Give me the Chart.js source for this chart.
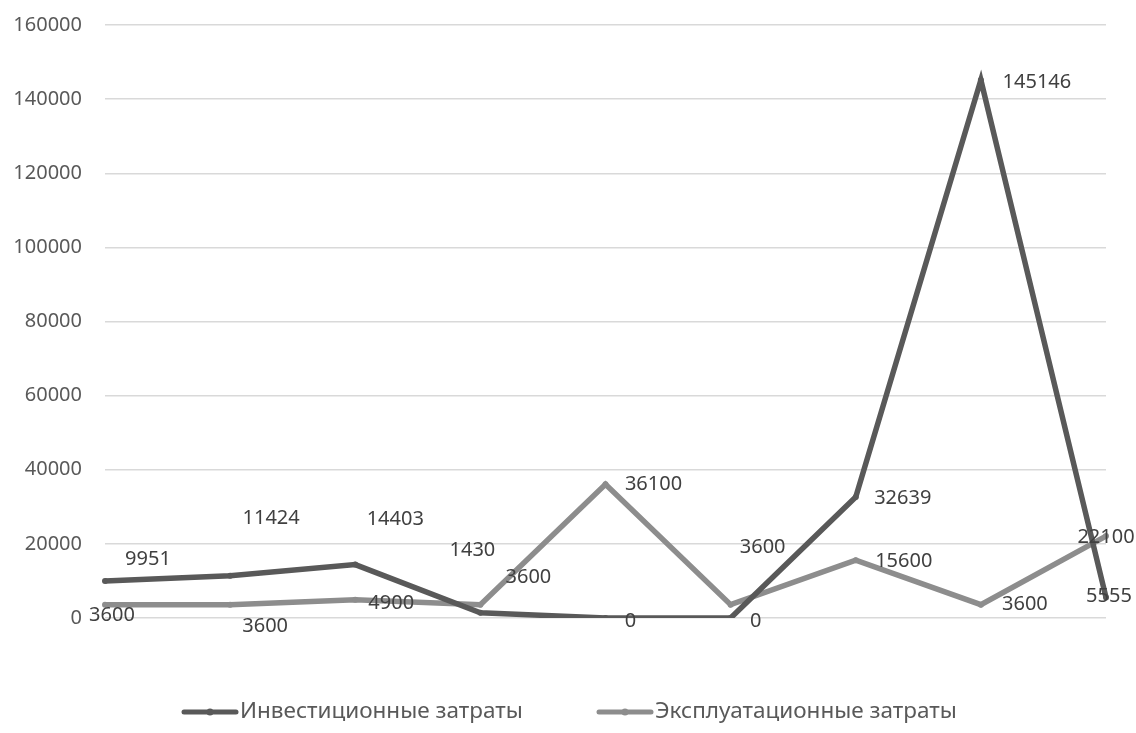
<!DOCTYPE html>
<html>
<head>
<meta charset="utf-8">
<script src="https://cdn.jsdelivr.net/npm/chart.js@4.4.1/dist/chart.umd.min.js"></script>
<style>
  html, body { margin: 0; padding: 0; background: #fff; }
  #wrap { width: 1136px; height: 733px; }
</style>
</head>
<body>
<div id="wrap"><canvas id="lineChart" width="1136" height="733"></canvas></div>
<script>
// categories (not labelled on the axis)
const periods = ['1', '2', '3', '4', '5', '6', '7', '8', '9'];

// series values
const investCosts = [9951, 11424, 14403, 1430, 0, 0, 32639, 145146, 5555];
const operCosts = [3600, 3600, 4900, 3600, 36100, 3600, 15600, 3600, 22100];

const seriesNames = ['Инвестиционные затраты', 'Эксплуатационные затраты'];

// y axis ticks
const yTicks = [0, 20000, 40000, 60000, 80000, 100000, 120000, 140000, 160000];

// where each value label sits relative to its point [dx, dy]
const investLabelShift = [[43, -22], [41, -57], [40, -45], [-8, -62], [25, 3], [25, 3], [47, 1], [56, 2], [3, -1]];
const operLabelShift = [[7, 11], [35, 22], [36, 3], [48, -27], [48, 0], [32, -57], [48, 1], [44, 0], [0, 1]];

// left edge of each legend entry and the legend row
const legendX = [182, 597];
const LEGEND_Y = 712;

const FONT = '"Noto Sans", "Open Sans", sans-serif';
const DARK = '#595959';
const LIGHT = '#8d8d8d';

const valueLabels = {
  id: 'valueLabels',
  afterDatasetsDraw(chart) {
    const ctx = chart.ctx;
    const shifts = [investLabelShift, operLabelShift];
    ctx.save();
    ctx.font = '20px ' + FONT;
    ctx.fillStyle = '#404040';
    ctx.textAlign = 'center';
    ctx.textBaseline = 'middle';
    chart.data.datasets.forEach((ds, di) => {
      const meta = chart.getDatasetMeta(di);
      meta.data.forEach((pt, i) => {
        const s = shifts[di][i];
        ctx.fillText(String(ds.data[i]), pt.x + s[0], pt.y + s[1]);
      });
    });
    ctx.restore();
  }
};

// legend row: a short line with a dot in the middle, then the series name
const bottomLegend = {
  id: 'bottomLegend',
  afterDraw(chart) {
    const ctx = chart.ctx;
    ctx.save();
    chart.data.datasets.forEach((ds, di) => {
      const x0 = legendX[di];
      ctx.strokeStyle = ds.borderColor;
      ctx.lineWidth = 5;
      ctx.lineCap = 'round';
      ctx.beginPath();
      ctx.moveTo(x0 + 2, LEGEND_Y);
      ctx.lineTo(x0 + 54, LEGEND_Y);
      ctx.stroke();
      ctx.fillStyle = ds.borderColor;
      ctx.beginPath();
      ctx.arc(x0 + 28, LEGEND_Y, 3.5, 0, Math.PI * 2);
      ctx.fill();
      ctx.font = '22.5px ' + FONT;
      ctx.fillStyle = '#595959';
      ctx.textAlign = 'left';
      ctx.textBaseline = 'middle';
      ctx.fillText(ds.label, x0 + 58, LEGEND_Y);
    });
    ctx.restore();
  }
};

new Chart(document.getElementById('lineChart').getContext('2d'), {
  type: 'line',
  data: {
    labels: periods,
    datasets: [
      {
        label: seriesNames[0],
        data: investCosts,
        borderColor: DARK,
        backgroundColor: DARK,
        borderWidth: 5.5,
        pointRadius: 3,
        pointBackgroundColor: DARK,
        pointBorderWidth: 0,
        tension: 0
      },
      {
        label: seriesNames[1],
        data: operCosts,
        borderColor: LIGHT,
        backgroundColor: LIGHT,
        borderWidth: 5.5,
        pointRadius: 3,
        pointBackgroundColor: LIGHT,
        pointBorderWidth: 0,
        tension: 0
      }
    ]
  },
  options: {
    responsive: false,
    animation: false,
    layout: { padding: { top: 25, right: 30, left: 0, bottom: 115 } },
    plugins: {
      tooltip: { enabled: false },
      legend: { display: false }
    },
    scales: {
      x: {
        offset: false,
        grid: { display: false },
        border: { display: false },
        ticks: { display: false },
        afterFit(scale) { scale.height = 0; }
      },
      y: {
        min: 0,
        max: 160000,
        afterBuildTicks(scale) { scale.ticks = yTicks.map(v => ({ value: v })); },
        afterFit(scale) {
          scale.width = 105;
          scale.paddingTop = 0;
          scale.paddingBottom = 0;
        },
        grid: { color: '#d9d9d9', lineWidth: 1.5, drawTicks: false },
        border: { display: false },
        ticks: {
          font: { family: FONT, size: 20 },
          color: '#595959',
          padding: 23,
          callback: v => String(v)
        }
      }
    }
  },
  plugins: [valueLabels, bottomLegend]
});
</script>
</body>
</html>
